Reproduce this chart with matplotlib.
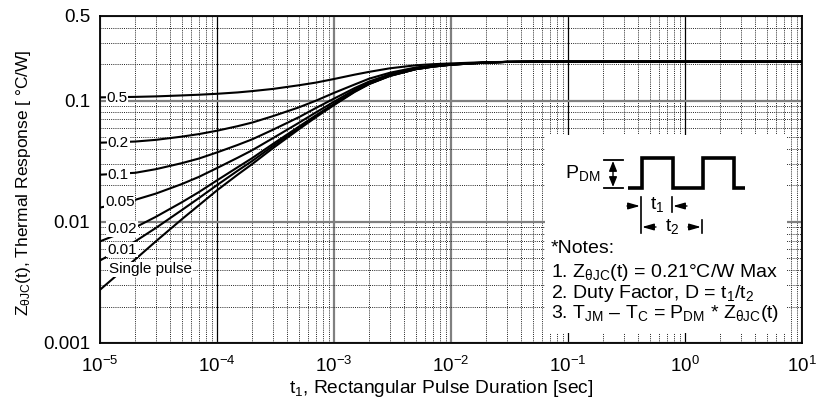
import matplotlib.pyplot as plt
from matplotlib.ticker import LogLocator, NullFormatter

plt.rcParams['font.family'] = ['Liberation Sans', 'DejaVu Sans']
plt.rcParams['mathtext.fontset'] = 'custom'
plt.rcParams['mathtext.rm'] = 'Liberation Sans'
plt.rcParams['mathtext.it'] = 'Liberation Sans:italic'
plt.rcParams['mathtext.bf'] = 'Liberation Sans:bold'

# pulse duration t1 [sec]
pulse_time = [1e-5, 2e-5, 3e-5, 5e-5, 7e-5, 1e-4, 1.5e-4, 2e-4, 3e-4, 5e-4,
              7e-4, 1e-3, 1.5e-3, 2e-3, 3e-3, 5e-3, 7e-3, 1e-2, 1.5e-2,
              2e-2, 3e-2, 5e-2, 1e-1, 1e0, 1e1]

# thermal response Z_thetaJC(t) [C/W], one list per duty factor
z_d050 = [0.1065, 0.1075, 0.1085, 0.1105, 0.112, 0.114, 0.117, 0.120, 0.125,
          0.134, 0.141, 0.151, 0.164, 0.173, 0.185, 0.196, 0.200, 0.203,
          0.206, 0.208, 0.209, 0.210, 0.210, 0.210, 0.210]
z_d020 = [0.0450, 0.0460, 0.0475, 0.0505, 0.0530, 0.0565, 0.0616, 0.0660,
          0.0745, 0.088, 0.100, 0.116, 0.136, 0.152, 0.170, 0.188, 0.195,
          0.200, 0.204, 0.207, 0.209, 0.210, 0.210, 0.210, 0.210]
z_d010 = [0.0245, 0.0254, 0.0272, 0.0305, 0.0333, 0.0374, 0.0431, 0.0480,
          0.0575, 0.073, 0.087, 0.104, 0.127, 0.144, 0.165, 0.185, 0.193,
          0.199, 0.204, 0.206, 0.209, 0.210, 0.210, 0.210, 0.210]
z_d005 = [0.0131, 0.0152, 0.0171, 0.0205, 0.0235, 0.0278, 0.0338, 0.0390,
          0.0490, 0.0656, 0.080, 0.098, 0.123, 0.141, 0.163, 0.183, 0.192,
          0.199, 0.203, 0.206, 0.209, 0.210, 0.210, 0.210, 0.210]
z_d002 = [0.0069, 0.0090, 0.0110, 0.0145, 0.0176, 0.0220, 0.0282, 0.0336,
          0.0439, 0.0610, 0.0757, 0.094, 0.120, 0.138, 0.161, 0.182, 0.191,
          0.198, 0.203, 0.206, 0.209, 0.210, 0.210, 0.210, 0.210]
z_d001 = [0.0048, 0.0069, 0.0089, 0.0125, 0.0157, 0.0201, 0.0264, 0.0318,
          0.0422, 0.0595, 0.0744, 0.093, 0.119, 0.138, 0.160, 0.182, 0.191,
          0.198, 0.203, 0.206, 0.209, 0.210, 0.210, 0.210, 0.210]
z_single = [0.00275, 0.0049, 0.0069, 0.0105, 0.0137, 0.0182, 0.0245, 0.0300,
            0.0405, 0.058, 0.073, 0.092, 0.118, 0.137, 0.160, 0.182, 0.191,
            0.198, 0.203, 0.206, 0.209, 0.210, 0.210, 0.210, 0.210]

curve_labels = ['0.5', '0.2', '0.1', '0.05', '0.02', '0.01', 'Single pulse']
curves = [z_d050, z_d020, z_d010, z_d005, z_d002, z_d001, z_single]
# where each duty label sits (t, Z)
label_pos = [(1.40e-5, 0.105), (1.43e-5, 0.0446), (1.43e-5, 0.0243),
             (1.48e-5, 0.0145), (1.54e-5, 0.0087), (1.54e-5, 0.0059),
             (1.20e-5, 0.00405)]

x_ticks = [1e-5, 1e-4, 1e-3, 1e-2, 1e-1, 1e0, 1e1]
y_ticks = [0.001, 0.01, 0.1, 0.5]
y_tick_labels = ['0.001', '0.01', '0.1', '0.5']

fig = plt.figure(figsize=(8.17, 4.09), dpi=100)
ax = fig.add_axes([100 / 817, 1 - 343 / 409, 702 / 817, 327 / 409])

for z in curves:
    ax.plot(pulse_time, z, color='black', lw=1.5, zorder=2)

for text, (tx, ty) in zip(curve_labels, label_pos):
    ha = 'left' if text == 'Single pulse' else 'center'
    ax.text(tx, ty, text, fontsize=11, ha=ha, va='center', zorder=3,
            bbox=dict(facecolor='white', edgecolor='none', pad=0.5))

ax.set_xscale('log')
ax.set_yscale('log')
ax.set_xlim(1e-5, 1e1)
ax.set_ylim(1e-3, 0.5)
ax.set_xticks(x_ticks)
ax.set_yticks(y_ticks)
ax.set_yticklabels(y_tick_labels)
ax.xaxis.set_minor_locator(LogLocator(base=10, subs=range(2, 10), numticks=20))
ax.yaxis.set_minor_locator(LogLocator(base=10, subs=range(2, 10), numticks=20))
ax.xaxis.set_minor_formatter(NullFormatter())
ax.yaxis.set_minor_formatter(NullFormatter())

ax.grid(which='major', color='#808080', lw=1.6, ls='-')
ax.grid(which='minor', color='#222222', lw=0.7, ls=(0, (1, 1.2)))
# some decade lines are thin black on the original
for i in (1, 4, 5):
    g = ax.xaxis.get_major_ticks()[i].gridline
    g.set_color('black')
    g.set_linewidth(0.9)

ax.tick_params(which='both', length=0, labelsize=13.5)
ax.tick_params(axis='y', pad=7)
ax.tick_params(axis='x', pad=9)
for s in ax.spines.values():
    s.set_linewidth(1.3)

ax.set_xlabel(r't$_\mathregular{1}$, Rectangular Pulse Duration [sec]', fontsize=13.8, va='top')
ax.set_ylabel(r'Z$_\mathregular{θJC}$(t), Thermal Response [ °C/W]', fontsize=12.5)
ax.xaxis.set_label_coords(0.4865, -0.108)
ax.yaxis.set_label_coords(-0.096, 0.489)

# notes panel, drawn in pixel units of the figure
ins = fig.add_axes([545 / 817, 1 - 333 / 409, 242 / 817, 198 / 409], zorder=5)
ins.set_xlim(545, 787)
ins.set_ylim(333, 135)
ins.set_facecolor('white')
ins.set_xticks([])
ins.set_yticks([])
for s in ins.spines.values():
    s.set_visible(False)

wave_x = [628, 642, 642, 673, 673, 703, 703, 734, 734, 745]
wave_y = [188, 188, 158, 158, 188, 188, 158, 158, 188, 188]
ins.plot(wave_x, wave_y, color='black', lw=2.6, solid_joinstyle='miter',
         solid_capstyle='butt')

ins.plot([604, 623], [160, 160], color='black', lw=1.3)
ins.plot([604, 623], [188, 188], color='black', lw=1.3)
ins.annotate('', xy=(613, 161), xytext=(613, 187),
             arrowprops=dict(arrowstyle='<|-|>,head_length=0.5,head_width=0.2',
                             color='black', lw=1, shrinkA=0, shrinkB=0,
                             mutation_scale=12))
ins.text(600, 173, r'P$_\mathregular{DM}$', fontsize=14, ha='right', va='center')

ins.plot([641, 641], [197, 233], color='black', lw=1.2)
ins.plot([672, 672], [197, 212], color='black', lw=1.2)
ins.plot([702, 702], [220, 233], color='black', lw=1.2)
arrow = dict(arrowstyle='-|>,head_length=0.7,head_width=0.2', color='black',
             lw=1, shrinkA=0, shrinkB=0, mutation_scale=10)
ins.annotate('', xy=(640, 206), xytext=(627, 206), arrowprops=arrow)
ins.annotate('', xy=(673, 206), xytext=(687, 206), arrowprops=arrow)
ins.annotate('', xy=(642, 227), xytext=(656, 227), arrowprops=arrow)
ins.annotate('', xy=(701, 227), xytext=(688, 227), arrowprops=arrow)
ins.text(657, 204, r't$_\mathregular{1}$', fontsize=14, ha='center', va='center')
ins.text(672, 227, r't$_\mathregular{2}$', fontsize=14, ha='center', va='center')

notes = ['*Notes:',
         r'1. Z$_\mathregular{θJC}$(t) = 0.21°C/W Max',
         r'2. Duty Factor, D = t$_\mathregular{1}$/t$_\mathregular{2}$',
         r'3. T$_\mathregular{JM}$ – T$_\mathregular{C}$ = P$_\mathregular{DM}$ * Z$_\mathregular{θJC}$(t)']
for line, base in zip(notes, [253, 277, 298, 318]):
    ins.text(551, base, line, fontsize=14, ha='left', va='baseline')

fig.savefig('out.png', dpi=100)
